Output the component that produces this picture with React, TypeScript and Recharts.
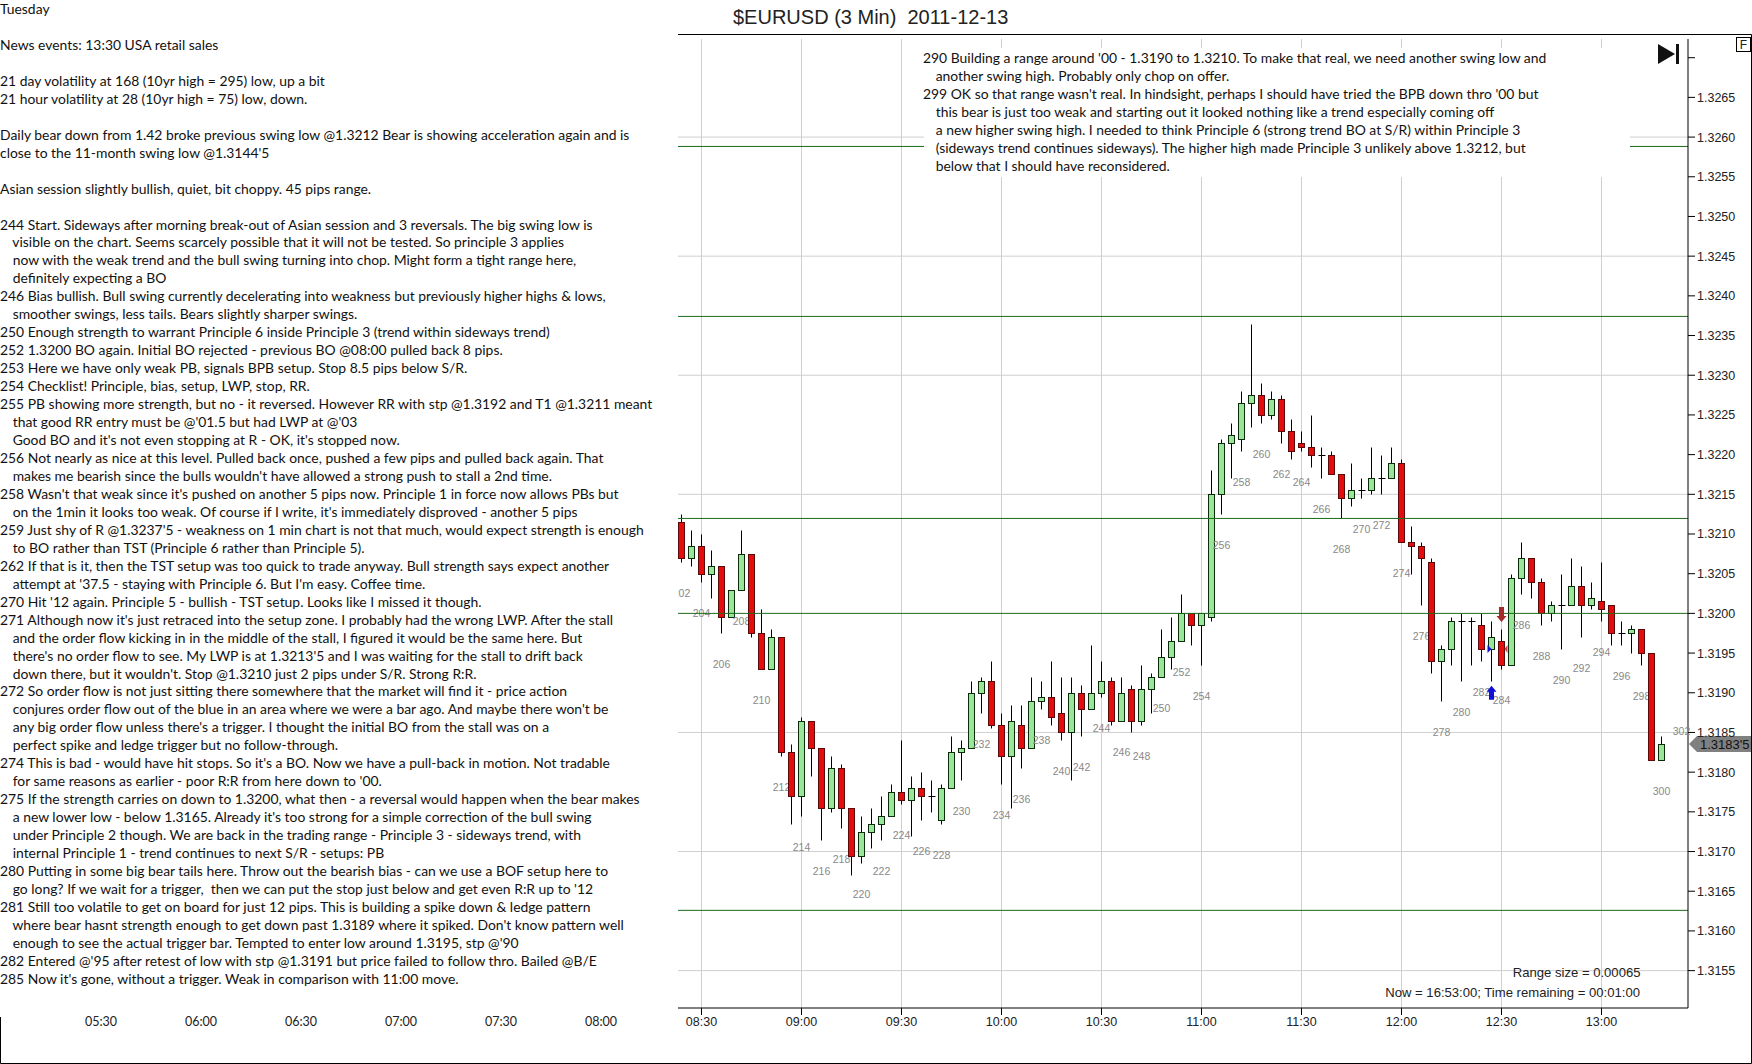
import { ComposedChart, Bar, XAxis, YAxis, CartesianGrid, ReferenceLine, ReferenceDot } from "recharts";

// bar numbers run 202..300, one bar every 3 minutes
const firstBar = 202;

const opens = [
  1.32115, 1.3207, 1.32085, 1.3205, 1.3206, 1.31995, 1.3203, 1.32075, 1.31975, 1.3193,
  1.3197, 1.31825, 1.3177, 1.31865, 1.3183, 1.31755, 1.31805, 1.31755, 1.31695, 1.31725,
  1.31735, 1.31745, 1.31775, 1.31765, 1.3178, 1.3177, 1.3174, 1.3178, 1.31825, 1.3183,
  1.319, 1.31915, 1.3186, 1.3182, 1.3186, 1.3183, 1.3189, 1.31895, 1.31875, 1.3185,
  1.319, 1.3188, 1.319, 1.31915, 1.31865, 1.31905, 1.31865, 1.31905, 1.3192, 1.31945,
  1.31965, 1.32, 1.31985, 1.31995, 1.3215, 1.32215, 1.3222, 1.32265, 1.32275, 1.3225,
  1.3227, 1.3223, 1.32215, 1.3221, 1.322, 1.322, 1.32175, 1.32145, 1.32155, 1.32155,
  1.3217, 1.3217, 1.3219, 1.3209, 1.32085, 1.32065, 1.3194, 1.31955, 1.3199, 1.3199,
  1.31985, 1.31955, 1.31965, 1.31935, 1.32045, 1.3207, 1.3204, 1.32, 1.3201, 1.3201,
  1.32035, 1.3201, 1.32015, 1.3201, 1.31975, 1.31975, 1.3198, 1.3195, 1.31815,
];
const highs = [
  1.32125, 1.32105, 1.321, 1.3208, 1.3206, 1.3203, 1.32105, 1.32075, 1.32005, 1.3198,
  1.3197, 1.31835, 1.3187, 1.31865, 1.3183, 1.3182, 1.3181, 1.31755, 1.31745, 1.31755,
  1.3177, 1.31785, 1.3184, 1.31795, 1.318, 1.3179, 1.31785, 1.31845, 1.3184, 1.31915,
  1.3192, 1.3194, 1.31875, 1.31885, 1.31885, 1.3192, 1.31915, 1.3194, 1.3192, 1.3192,
  1.3191, 1.3196, 1.3194, 1.3192, 1.3192, 1.3191, 1.31935, 1.31925, 1.3198, 1.31995,
  1.32025, 1.32, 1.32, 1.3218, 1.3222, 1.3224, 1.3228, 1.32365, 1.3229, 1.3228,
  1.32275, 1.32245, 1.3223, 1.3225, 1.3221, 1.32205, 1.32175, 1.3219, 1.3217, 1.3221,
  1.322, 1.3221, 1.32195, 1.3211, 1.3209, 1.3207, 1.3196, 1.31995, 1.32, 1.31995,
  1.32, 1.3199, 1.3198, 1.3205, 1.3209, 1.3207, 1.32045, 1.32015, 1.3205, 1.3207,
  1.3206, 1.3204, 1.32065, 1.3201, 1.3199, 1.31985, 1.3198, 1.3195, 1.31845,
];
const lows = [
  1.32065, 1.3206, 1.3204, 1.3202, 1.31975, 1.31995, 1.3203, 1.3197, 1.3193, 1.3193,
  1.3182, 1.31735, 1.31745, 1.31795, 1.31715, 1.3175, 1.3173, 1.3167, 1.31685, 1.31705,
  1.31715, 1.31745, 1.3176, 1.3172, 1.3174, 1.3175, 1.31735, 1.3178, 1.3179, 1.3183,
  1.31875, 1.31855, 1.31785, 1.31755, 1.31805, 1.3183, 1.3188, 1.3186, 1.3184, 1.3179,
  1.31845, 1.3188, 1.31895, 1.3186, 1.31865, 1.3185, 1.3186, 1.31875, 1.3192, 1.3193,
  1.31965, 1.3196, 1.31935, 1.3199, 1.32125, 1.3217, 1.32205, 1.32235, 1.3224, 1.32245,
  1.32215, 1.32195, 1.32205, 1.32185, 1.3217, 1.32175, 1.3212, 1.32135, 1.32145, 1.3215,
  1.3215, 1.3217, 1.3209, 1.3205, 1.3201, 1.31925, 1.3189, 1.31935, 1.31915, 1.31935,
  1.3194, 1.31915, 1.3193, 1.31935, 1.32025, 1.3202, 1.31985, 1.3199, 1.31955, 1.3201,
  1.3197, 1.32005, 1.3199, 1.3196, 1.3196, 1.3195, 1.31935, 1.31815, 1.31815,
];
const closes = [
  1.3207, 1.32085, 1.3205, 1.3206, 1.31995, 1.3203, 1.32075, 1.31975, 1.3193, 1.3197,
  1.31825, 1.3177, 1.31865, 1.3183, 1.31755, 1.31805, 1.31755, 1.31695, 1.31725, 1.31735,
  1.31745, 1.31775, 1.31765, 1.3178, 1.3177, 1.3177, 1.3178, 1.31825, 1.3183, 1.319,
  1.31915, 1.3186, 1.3182, 1.31865, 1.3183, 1.3189, 1.31895, 1.3187, 1.3185, 1.319,
  1.3188, 1.319, 1.31915, 1.31865, 1.319, 1.31865, 1.31905, 1.3192, 1.31945, 1.31965,
  1.32, 1.31985, 1.32, 1.3215, 1.32215, 1.32225, 1.32265, 1.32275, 1.3225, 1.3227,
  1.3223, 1.32205, 1.3221, 1.322, 1.322, 1.32175, 1.32145, 1.32155, 1.32155, 1.3217,
  1.3217, 1.3219, 1.3209, 1.32085, 1.3207, 1.3194, 1.31955, 1.3199, 1.3199, 1.3199,
  1.31955, 1.3197, 1.31935, 1.32045, 1.3207, 1.3204, 1.32, 1.3201, 1.3201, 1.32035,
  1.3201, 1.3202, 1.32005, 1.31975, 1.31975, 1.3198, 1.3195, 1.31815, 1.31835,
];

const timeLabels = ["08:30", "09:00", "09:30", "10:00", "10:30", "11:00", "11:30", "12:00", "12:30", "13:00"];
const timeBars = [204, 214, 224, 234, 244, 254, 264, 274, 284, 294];
const priceTicks = [
  1.327, 1.3265, 1.326, 1.3255, 1.325, 1.3245, 1.324, 1.3235, 1.323, 1.3225, 1.322, 1.3215,
  1.321, 1.3205, 1.32, 1.3195, 1.319, 1.3185, 1.318, 1.3175, 1.317, 1.3165, 1.316, 1.3155,
];
const gridPrices = [1.326, 1.3245, 1.323, 1.3215, 1.3185, 1.317, 1.3155];
const levels = [1.325882, 1.323741, 1.321196, 1.32, 1.316259];
const oldTimes = ["05:30", "06:00", "06:30", "07:00", "07:30", "08:00"];

const diary = [
  "Tuesday",
  "",
  "News events: 13:30 USA retail sales",
  "",
  "21 day volatility at 168 (10yr high = 295) low, up a bit",
  "21 hour volatility at 28 (10yr high = 75) low, down.",
  "",
  "Daily bear down from 1.42 broke previous swing low @1.3212 Bear is showing acceleration again and is",
  "close to the 11-month swing low @1.3144'5",
  "",
  "Asian session slightly bullish, quiet, bit choppy. 45 pips range.",
  "",
  "244 Start. Sideways after morning break-out of Asian session and 3 reversals. The big swing low is",
  "   visible on the chart. Seems scarcely possible that it will not be tested. So principle 3 applies",
  "   now with the weak trend and the bull swing turning into chop. Might form a tight range here,",
  "   definitely expecting a BO",
  "246 Bias bullish. Bull swing currently decelerating into weakness but previously higher highs & lows,",
  "   smoother swings, less tails. Bears slightly sharper swings.",
  "250 Enough strength to warrant Principle 6 inside Principle 3 (trend within sideways trend)",
  "252 1.3200 BO again. Initial BO rejected - previous BO @08:00 pulled back 8 pips.",
  "253 Here we have only weak PB, signals BPB setup. Stop 8.5 pips below S/R.",
  "254 Checklist! Principle, bias, setup, LWP, stop, RR.",
  "255 PB showing more strength, but no - it reversed. However RR with stp @1.3192 and T1 @1.3211 meant",
  "   that good RR entry must be @'01.5 but had LWP at @'03",
  "   Good BO and it's not even stopping at R - OK, it's stopped now.",
  "256 Not nearly as nice at this level. Pulled back once, pushed a few pips and pulled back again. That",
  "   makes me bearish since the bulls wouldn't have allowed a strong push to stall a 2nd time.",
  "258 Wasn't that weak since it's pushed on another 5 pips now. Principle 1 in force now allows PBs but",
  "   on the 1min it looks too weak. Of course if I write, it's immediately disproved - another 5 pips",
  "259 Just shy of R @1.3237'5 - weakness on 1 min chart is not that much, would expect strength is enough",
  "   to BO rather than TST (Principle 6 rather than Principle 5).",
  "262 If that is it, then the TST setup was too quick to trade anyway. Bull strength says expect another",
  "   attempt at '37.5 - staying with Principle 6. But I'm easy. Coffee time.",
  "270 Hit '12 again. Principle 5 - bullish - TST setup. Looks like I missed it though.",
  "271 Although now it's just retraced into the setup zone. I probably had the wrong LWP. After the stall",
  "   and the order flow kicking in in the middle of the stall, I figured it would be the same here. But",
  "   there's no order flow to see. My LWP is at 1.3213'5 and I was waiting for the stall to drift back",
  "   down there, but it wouldn't. Stop @1.3210 just 2 pips under S/R. Strong R:R.",
  "272 So order flow is not just sitting there somewhere that the market will find it - price action",
  "   conjures order flow out of the blue in an area where we were a bar ago. And maybe there won't be",
  "   any big order flow unless there's a trigger. I thought the initial BO from the stall was on a",
  "   perfect spike and ledge trigger but no follow-through.",
  "274 This is bad - would have hit stops. So it's a BO. Now we have a pull-back in motion. Not tradable",
  "   for same reasons as earlier - poor R:R from here down to '00.",
  "275 If the strength carries on down to 1.3200, what then - a reversal would happen when the bear makes",
  "   a new lower low - below 1.3165. Already it's too strong for a simple correction of the bull swing",
  "   under Principle 2 though. We are back in the trading range - Principle 3 - sideways trend, with",
  "   internal Principle 1 - trend continues to next S/R - setups: PB",
  "280 Putting in some big bear tails here. Throw out the bearish bias - can we use a BOF setup here to",
  "   go long? If we wait for a trigger,  then we can put the stop just below and get even R:R up to '12",
  "281 Still too volatile to get on board for just 12 pips. This is building a spike down & ledge pattern",
  "   where bear hasnt strength enough to get down past 1.3189 where it spiked. Don't know pattern well",
  "   enough to see the actual trigger bar. Tempted to enter low around 1.3195, stp @'90",
  "282 Entered @'95 after retest of low with stp @1.3191 but price failed to follow thro. Bailed @B/E",
  "285 Now it's gone, without a trigger. Weak in comparison with 11:00 move.",
];

const notes = [
  "290 Building a range around '00 - 1.3190 to 1.3210. To make that real, we need another swing low and",
  "   another swing high. Probably only chop on offer.",
  "299 OK so that range wasn't real. In hindsight, perhaps I should have tried the BPB down thro '00 but",
  "   this bear is just too weak and starting out it looked nothing like a trend especially coming off",
  "   a new higher swing high. I needed to think Principle 6 (strong trend BO at S/R) within Principle 3",
  "   (sideways trend continues sideways). The higher high made Principle 3 unlikely above 1.3212, but",
  "   below that I should have reconsidered.",
];

const data = opens.map((open, i) => ({
  bar: firstBar + i,
  open,
  close: closes[i],
  high: highs[i],
  low: lows[i],
}));

const textFont = "Lato, 'Noto Sans', sans-serif";
const chartFont = "'Liberation Sans', Arial, sans-serif";
const lineH = 17.96;

function Candle(props: any) {
  const { x, y, width, height, payload } = props;
  const cx = Math.floor(x + width / 2) + 0.5;
  const perPrice = height / (payload.high - payload.low);
  const py = (p: number) => Math.round(y + (payload.high - p) * perPrice) + 0.5;
  const top = py(Math.max(payload.open, payload.close));
  const bottom = py(Math.min(payload.open, payload.close));
  const up = payload.close >= payload.open;
  return (
    <g>
      {payload.bar % 2 === 0 && (
        <text x={cx} y={y + height + 35} textAnchor="middle" fontSize={10.5} fill="#888" fontFamily={chartFont}>
          {payload.bar}
        </text>
      )}
      <line x1={cx} x2={cx} y1={py(payload.high)} y2={py(payload.low)} stroke="#000" />
      {top === bottom ? (
        <line x1={cx - 3} x2={cx + 4} y1={top} y2={top} stroke="#000" />
      ) : (
        <rect
          x={cx - 3}
          y={top}
          width={6}
          height={bottom - top}
          fill={up ? "#98E698" : "#E50C0C"}
          stroke={up ? "#0C2C0C" : "#5A0A0A"}
        />
      )}
    </g>
  );
}

function PriceTag(props: any) {
  const y = Math.round(props.cy);
  return (
    <g>
      <polygon points={`1689,${y} 1697,${y - 8} 1751,${y - 8} 1751,${y + 8} 1697,${y + 8}`} fill="#808080" />
      <text x={1700} y={y + 5} fontSize={13} fill="#111" fontFamily={chartFont}>
        1.3183'5
      </text>
    </g>
  );
}

const Marker = (points: string, fill: string) => (props: any) => (
  <polygon transform={`translate(${props.cx} ${props.cy})`} points={points} fill={fill} />
);

function TextLine({ line, top, left }: { line: string; top: number; left: number }) {
  // Calibri is not installed, Lato squeezed a little comes closest
  const indent = line.startsWith("   ") ? 2 : 0;
  return (
    <div
      style={{
        position: "absolute",
        left: left + indent,
        top,
        whiteSpace: "pre",
        font: `14.3px ${textFont}`,
        lineHeight: `${lineH}px`,
        color: "#111",
        transform: "scaleX(0.972)",
        transformOrigin: "left center",
      }}
    >
      {line}
    </div>
  );
}

export default function App() {
  return (
    <div style={{ position: "absolute", left: 0, top: 0, width: 1752, height: 1064, background: "#fff", overflow: "hidden" }}>
      <ComposedChart
        width={1752}
        height={1064}
        data={data}
        margin={{ top: 39, right: 0, bottom: 0, left: 678 }}
        style={{ position: "absolute", left: 0, top: 0 }}
      >
        <CartesianGrid stroke="#cfcfcf" horizontalValues={gridPrices} verticalValues={timeBars} />
        <XAxis
          type="number"
          dataKey="bar"
          domain={[201.65, 302.65]}
          ticks={timeBars}
          interval={0}
          allowDataOverflow
          height={56}
          tickSize={7}
          stroke="#000"
          tick={{ fontSize: 12.5, fill: "#222", fontFamily: chartFont }}
          tickFormatter={(v: number) => timeLabels[timeBars.indexOf(v)]}
        />
        <YAxis
          orientation="right"
          domain={[1.315029, 1.3272355]}
          ticks={priceTicks}
          interval={0}
          allowDataOverflow
          width={64}
          tickSize={7}
          stroke="#000"
          tick={{ fontSize: 12.5, fill: "#222", fontFamily: chartFont }}
          tickFormatter={(v: number) => (v === 1.327 ? "" : v.toFixed(4))}
        />
        {levels.map((l) => (
          <ReferenceLine key={l} y={l} stroke="#1B6B1B" strokeWidth={1} />
        ))}
        <Bar
          dataKey={(d: any) => [d.low, d.high]}
          barSize={7}
          isAnimationActive={false}
          shape={<Candle />}
        />
        <ReferenceDot x={302} y={1.31851} r={0} label={{ value: "302", fontSize: 10.5, fill: "#888", fontFamily: chartFont }} />
        <ReferenceDot x={284} y={1.31998} shape={Marker("-2.5,-8 2.5,-8 2.5,1 5,1 0,7 -5,1 -2.5,1", "#A52A2A")} />
        <ReferenceDot x={283} y={1.319} shape={Marker("0,-7 5,-1 2.5,-1 2.5,7 -2.5,7 -2.5,-1 -5,-1", "#1010D8")} />
        <ReferenceDot x={283} y={1.31955} shape={Marker("-4,-4 0,0 -4,4", "#1010D8")} />
        <ReferenceDot x={284} y={1.31955} shape={Marker("6,-4 6,4 3,0", "#C44")} />
        <ReferenceDot x={302.65} y={1.31835} ifOverflow="visible" shape={<PriceTag />} />
      </ComposedChart>

      {/* left diary panel sits over the chart and clips the cut 202 label */}
      <div style={{ position: "absolute", left: 0, top: 0, width: 678, height: 1064, background: "#fff" }}>
        {diary.map((line, i) => (
          <TextLine key={i} line={line} left={0} top={i * lineH} />
        ))}
        {oldTimes.map((t, i) => (
          <div
            key={t}
            style={{
              position: "absolute",
              left: 101 + i * 100 - 20,
              width: 40,
              top: 1013,
              textAlign: "center",
              font: `12.5px ${textFont}`,
              lineHeight: "18px",
              color: "#222",
            }}
          >
            {t}
          </div>
        ))}
      </div>

      <div style={{ position: "absolute", left: 924, top: 48, width: 706, height: 129, background: "#fff" }}>
        {notes.map((line, i) => (
          <TextLine key={i} line={line} left={-1} top={i * lineH + 1} />
        ))}
      </div>

      {/* frame, title, buttons */}
      <svg width={1752} height={1064} style={{ position: "absolute", left: 0, top: 0, pointerEvents: "none" }}>
        <path d="M678 34.5H1751.5V1063.5H0.5V1017" fill="none" stroke="#000" />
        <text x={733} y={24} fontSize={20} fill="#222" fontFamily={chartFont} xmlSpace="preserve">
          $EURUSD (3 Min)  2011-12-13
        </text>
        <rect x={1736.5} y={37.5} width={14} height={14} fill="#fff" stroke="#000" />
        <text x={1743.5} y={49} fontSize={12} textAnchor="middle" fill="#222" fontFamily={chartFont}>F</text>
        <polygon points="1658,44 1675,54 1658,64" fill="#111" />
        <rect x={1676} y={44} width={3} height={20} fill="#111" />
        <text x={1640.5} y={977} fontSize={13.1} textAnchor="end" fill="#222" fontFamily={chartFont}>Range size = 0.00065</text>
        <text x={1640} y={997} fontSize={13.1} textAnchor="end" fill="#222" fontFamily={chartFont}>Now = 16:53:00; Time remaining = 00:01:00</text>
      </svg>
    </div>
  );
}
